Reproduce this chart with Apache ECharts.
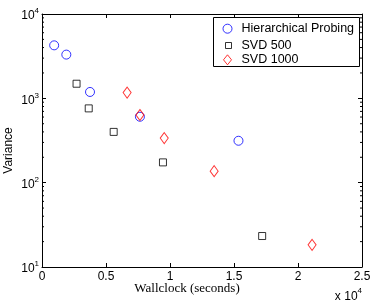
<!DOCTYPE html>
<html><head><meta charset="utf-8">
<script src="https://cdn.jsdelivr.net/npm/echarts@6/dist/echarts.min.js"></script>
<style>html,body{margin:0;padding:0;background:#fff}#c{width:374px;height:301px}</style>
</head><body><div id="c"></div>
<script>
// Data (x = wallclock seconds, y = variance)
const hierX = [950, 1900, 3750, 7650, 15350];
const hierY = [4250, 3300, 1190, 605, 314];
const svd500X = [2700, 3650, 5600, 9450, 17200];
const svd500Y = [1490, 760, 400, 174, 23.3];
const svd1000X = [6650, 7650, 9550, 13450, 21100];
const svd1000Y = [1170, 635, 338, 137, 18.3];
const seriesNames = ['Hierarchical Probing', 'SVD 500', 'SVD 1000'];
const xTickValues = [0, 5000, 10000, 15000, 20000, 25000];
const yTickValues = [10, 100, 1000, 10000];
const yMinorTicks = [20, 30, 40, 50, 60, 70, 80, 90, 200, 300, 400, 500, 600, 700, 800, 900, 2000, 3000, 4000, 5000, 6000, 7000, 8000, 9000];

function pairs(xs, ys) { return xs.map((x, i) => [x, ys[i]]); }

const font = 'Liberation Sans, Arial, sans-serif';
const chart = echarts.init(document.getElementById('c'), null, {renderer: 'canvas'});
const axisLine = {show: true, onZero: false, lineStyle: {color: '#000', width: 1}};
function legendFor(name, w, h, cx, cy) {
  return {
    orient: 'vertical', left: cx - w / 2, top: cy - h / 2, padding: 0, itemGap: 0,
    data: [name], itemWidth: w, itemHeight: h, z: 5,
    itemStyle: {borderWidth: 1},
    textStyle: {fontSize: 12.5, fontFamily: font, color: '#000', lineHeight: h,
      padding: [0, 0, 0, 241 - (cx + w / 2) - 5]}
  };
}
chart.setOption({
  animation: false,
  backgroundColor: '#fff',
  grid: {left: 42, right: 12, top: 14, bottom: 34},
  xAxis: [{
    type: 'value', min: 0, max: 25000, interval: 5000, position: 'bottom',
    axisLine: axisLine, splitLine: {show: false},
    axisTick: {show: true, inside: true, length: 4, lineStyle: {color: '#000'}},
    axisLabel: {margin: 4, color: '#000', fontSize: 12, fontFamily: font,
      formatter: v => String(v / 10000)}
  }, {
    type: 'value', min: 0, max: 25000, interval: 5000, position: 'top',
    axisLine: axisLine, splitLine: {show: false},
    axisTick: {show: true, inside: true, length: 4, lineStyle: {color: '#000'}},
    axisLabel: {show: false}
  }],
  yAxis: [{
    type: 'log', logBase: 10, min: 10, max: 10000, position: 'left',
    axisLine: axisLine, splitLine: {show: false},
    axisTick: {show: true, inside: true, length: 4, lineStyle: {color: '#000'}},
    axisLabel: {margin: 3, color: '#000', fontFamily: font,
      formatter: v => '{b|10}{e|' + Math.round(Math.log10(v)) + '}',
      rich: {b: {fontSize: 12, fontFamily: font, color: '#000', padding: [4, 0, 0, 0]},
             e: {fontSize: 8, fontFamily: font, color: '#000', padding: [0, 0, 6, 0]}}}
  }, {
    type: 'log', logBase: 10, min: 10, max: 10000, position: 'right',
    axisLine: axisLine, splitLine: {show: false},
    axisTick: {show: true, inside: true, length: 4, lineStyle: {color: '#000'}},
    axisLabel: {show: false}
  }],
  legend: [
    legendFor(seriesNames[0], 9, 9, 227, 26.7),
    legendFor(seriesNames[1], 6, 6, 228, 42),
    legendFor(seriesNames[2], 8, 10, 227, 58.3)
  ],
  graphic: [
    {type: 'rect', left: 213, top: 17, z: 4, shape: {width: 146, height: 49},
      style: {fill: '#fff', stroke: '#000', lineWidth: 1}},
    {type: 'text', right: 12, top: 287, style: {
      text: '{x|x 10}{e|4}', rich: {
        x: {fontSize: 12, fontFamily: font, fill: '#000', padding: [5, 0, 0, 0]},
        e: {fontSize: 8, fontFamily: font, fill: '#000', padding: [0, 0, 6, 0]}}}},
    {type: 'text', left: 'center', top: 282, style: {
      text: 'Wallclock (seconds)', font: '13px "Liberation Serif", "DejaVu Serif", serif', fill: '#000'}},
    {type: 'text', left: 3, top: 'middle', rotation: Math.PI / 2, originX: 0, originY: 0,
      style: {text: 'Variance', font: '12px ' + font, fill: '#000'}}
  ],
  series: [
    {
      type: 'custom', xAxisIndex: 0, yAxisIndex: 0, silent: true,
      data: yMinorTicks.map(v => [0, v]),
      renderItem: function (params, api) {
        const v = api.value(1);
        const l = api.coord([0, v]);
        const r = api.coord([25000, v]);
        return {type: 'group', children: [
          {type: 'line', shape: {x1: l[0], y1: l[1], x2: l[0] + 2, y2: l[1]}, style: {stroke: '#000', lineWidth: 1}},
          {type: 'line', shape: {x1: r[0], y1: r[1], x2: r[0] - 2, y2: r[1]}, style: {stroke: '#000', lineWidth: 1}}
        ]};
      }
    },
    {name: seriesNames[0], type: 'scatter', data: pairs(hierX, hierY), symbol: 'circle', symbolSize: 9,
      itemStyle: {color: 'rgba(0,0,0,0)', borderColor: '#0000ff', borderWidth: 1}},
    {name: seriesNames[1], type: 'scatter', data: pairs(svd500X, svd500Y), symbol: 'rect', symbolSize: 7,
      itemStyle: {color: 'rgba(0,0,0,0)', borderColor: '#000', borderWidth: 1}},
    {name: seriesNames[2], type: 'scatter', data: pairs(svd1000X, svd1000Y), symbol: 'diamond', symbolSize: [8, 11],
      itemStyle: {color: 'rgba(0,0,0,0)', borderColor: '#ff0000', borderWidth: 1}}
  ]
});
</script></body></html>
